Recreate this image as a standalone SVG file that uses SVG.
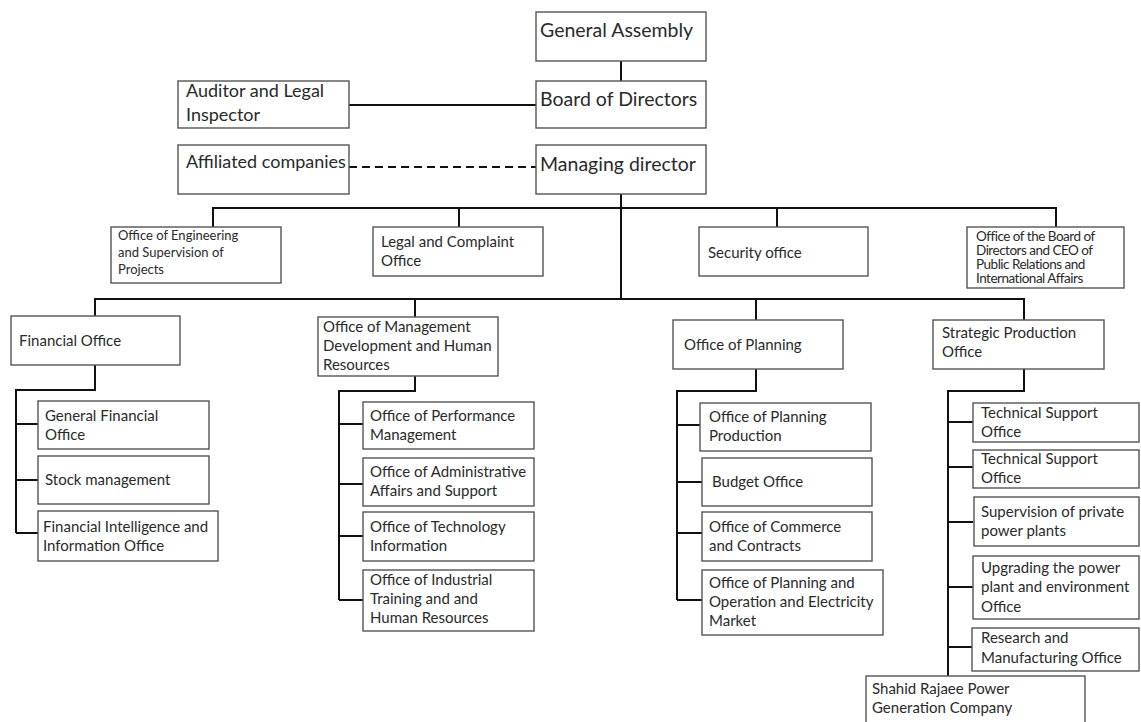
<svg xmlns="http://www.w3.org/2000/svg" width="1141" height="722" viewBox="0 0 1141 722">
<style>
.box{fill:#fff;stroke:#555;stroke-width:1.4}
.ln{fill:none;stroke:#111;stroke-width:2}
.dash{fill:none;stroke:#111;stroke-width:2;stroke-dasharray:8 5}
text{font-family:Lato,"Open Sans","Liberation Sans",sans-serif;fill:#2a2a2a}
.t0{font-size:19.5px}
.t1{font-size:18px}
.t2{font-size:15px}
.t2s{font-size:13px}
.t2c{font-size:13.5px;letter-spacing:-0.5px}
.t3{font-size:15px}
</style>
<rect width="1141" height="722" fill="#fff"/>
<g id="connectors">
<path class="ln" d="M621 61V81"/>
<path class="ln" d="M349 105H536"/>
<path class="dash" d="M349 167H536"/>
<path class="ln" d="M621 194V299"/>
<path class="ln" d="M213 227V208H1056V227M459 208V227M777 208V227"/>
<path class="ln" d="M95 316V299H1024V320M415 299V317M756 299V320"/>
<path class="ln" d="M95 365V390H16V533M16 424H38M16 480H38M16 533H38"/>
<path class="ln" d="M415 376V391H339V600M339 424H363M339 484H363M339 536H363M339 600H363"/>
<path class="ln" d="M756 369V391H677V600M677 425H700M677 482H702M677 533H702M677 600H702"/>
<path class="ln" d="M1024 369V391H948V676M948 422H973M948 467H973M948 522H973M948 587H973M948 647H973"/>
</g>
<g id="general-assembly"><rect class="box" x="536" y="12" width="170" height="49"/><text class="t0" x="540" y="37">General Assembly</text></g>
<g id="board-of-directors"><rect class="box" x="536" y="81" width="170" height="47"/><text class="t0" x="540" y="106">Board of Directors</text></g>
<g id="managing-director"><rect class="box" x="536" y="145" width="170" height="49"/><text class="t0" x="540" y="171">Managing director</text></g>
<g id="auditor"><rect class="box" x="178" y="81" width="171" height="47"/><text class="t1" x="186" y="97">Auditor and Legal</text><text class="t1" x="186" y="121">Inspector</text></g>
<g id="affiliated"><rect class="box" x="178" y="145" width="171" height="49"/><text class="t1" x="186" y="168">Affiliated companies</text></g>
<g id="engineering"><rect class="box" x="111" y="227" width="170" height="56"/><text class="t2s" x="118" y="240">Office of Engineering</text><text class="t2s" x="118" y="257">and Supervision  of</text><text class="t2s" x="118" y="274">Projects</text></g>
<g id="legal"><rect class="box" x="373" y="227" width="170" height="49"/><text class="t2" x="381" y="247">Legal and Complaint</text><text class="t2" x="381" y="266">Office</text></g>
<g id="security"><rect class="box" x="699" y="227" width="169" height="49"/><text class="t2" x="708" y="258">Security office</text></g>
<g id="board-pr"><rect class="box" x="967" y="227" width="157" height="61"/><text class="t2c" x="976" y="241">Office of the Board of</text><text class="t2c" x="976" y="255">Directors and CEO of</text><text class="t2c" x="976" y="269">Public Relations and</text><text class="t2c" x="976" y="283">International Affairs</text></g>
<g id="financial"><rect class="box" x="11" y="316" width="169" height="49"/><text class="t2" x="19" y="346">Financial Office</text></g>
<g id="management"><rect class="box" x="318" y="317" width="180" height="59"/><text class="t2" x="323" y="332">Office of Management</text><text class="t2" x="323" y="351">Development  and Human</text><text class="t2" x="323" y="370">Resources</text></g>
<g id="planning"><rect class="box" x="673" y="320" width="170" height="49"/><text class="t2" x="684" y="350">Office of Planning</text></g>
<g id="strategic"><rect class="box" x="933" y="320" width="171" height="49"/><text class="t2" x="942" y="338">Strategic Production</text><text class="t2" x="942" y="357">Office</text></g>
<g id="general-financial"><rect class="box" x="38" y="401" width="171" height="48"/><text class="t3" x="45" y="421">General Financial</text><text class="t3" x="45" y="440">Office</text></g>
<g id="stock"><rect class="box" x="38" y="456" width="171" height="48"/><text class="t3" x="45" y="485">Stock management</text></g>
<g id="fin-intel"><rect class="box" x="38" y="511" width="180" height="50"/><text class="t3" x="43" y="532">Financial Intelligence and</text><text class="t3" x="43" y="551">Information  Office</text></g>
<g id="performance"><rect class="box" x="363" y="402" width="171" height="47"/><text class="t3" x="370" y="421">Office of Performance</text><text class="t3" x="370" y="440">Management</text></g>
<g id="administrative"><rect class="box" x="363" y="458" width="171" height="48"/><text class="t3" x="370" y="477">Office of Administrative</text><text class="t3" x="370" y="496">Affairs and Support</text></g>
<g id="technology"><rect class="box" x="363" y="512" width="171" height="49"/><text class="t3" x="370" y="532">Office of Technology</text><text class="t3" x="370" y="551">Information</text></g>
<g id="industrial"><rect class="box" x="363" y="570" width="171" height="61"/><text class="t3" x="370" y="585">Office of Industrial</text><text class="t3" x="370" y="604">Training and and</text><text class="t3" x="370" y="623">Human  Resources</text></g>
<g id="planning-production"><rect class="box" x="700" y="403" width="171" height="48"/><text class="t3" x="709" y="422">Office of Planning</text><text class="t3" x="709" y="441">Production</text></g>
<g id="budget"><rect class="box" x="702" y="458" width="170" height="48"/><text class="t3" x="712" y="487">Budget Office</text></g>
<g id="commerce"><rect class="box" x="702" y="512" width="170" height="49"/><text class="t3" x="709" y="532">Office of Commerce</text><text class="t3" x="709" y="551">and Contracts</text></g>
<g id="planning-operation"><rect class="box" x="702" y="570" width="181" height="65"/><text class="t3" x="709" y="588">Office of Planning and</text><text class="t3" x="709" y="607">Operation and Electricity</text><text class="t3" x="709" y="626">Market</text></g>
<g id="tech-support-1"><rect class="box" x="973" y="403" width="166" height="39"/><text class="t3" x="981" y="418">Technical Support</text><text class="t3" x="981" y="437">Office</text></g>
<g id="tech-support-2"><rect class="box" x="973" y="450" width="166" height="38"/><text class="t3" x="981" y="464">Technical Support</text><text class="t3" x="981" y="483">Office</text></g>
<g id="supervision"><rect class="box" x="974" y="497" width="165" height="49"/><text class="t3" x="981" y="517">Supervision of private</text><text class="t3" x="981" y="536">power plants</text></g>
<g id="upgrading"><rect class="box" x="973" y="556" width="166" height="63"/><text class="t3" x="981" y="573">Upgrading the power</text><text class="t3" x="981" y="592">plant and environment</text><text class="t3" x="981" y="612">Office</text></g>
<g id="research"><rect class="box" x="972" y="628" width="167" height="43"/><text class="t3" x="981" y="643">Research and</text><text class="t3" x="981" y="663">Manufacturing Office</text></g>
<g id="shahid"><rect class="box" x="866" y="676" width="219" height="60"/><text class="t3" x="872" y="694">Shahid Rajaee Power</text><text class="t3" x="872" y="713">Generation Company</text></g>
</svg>
